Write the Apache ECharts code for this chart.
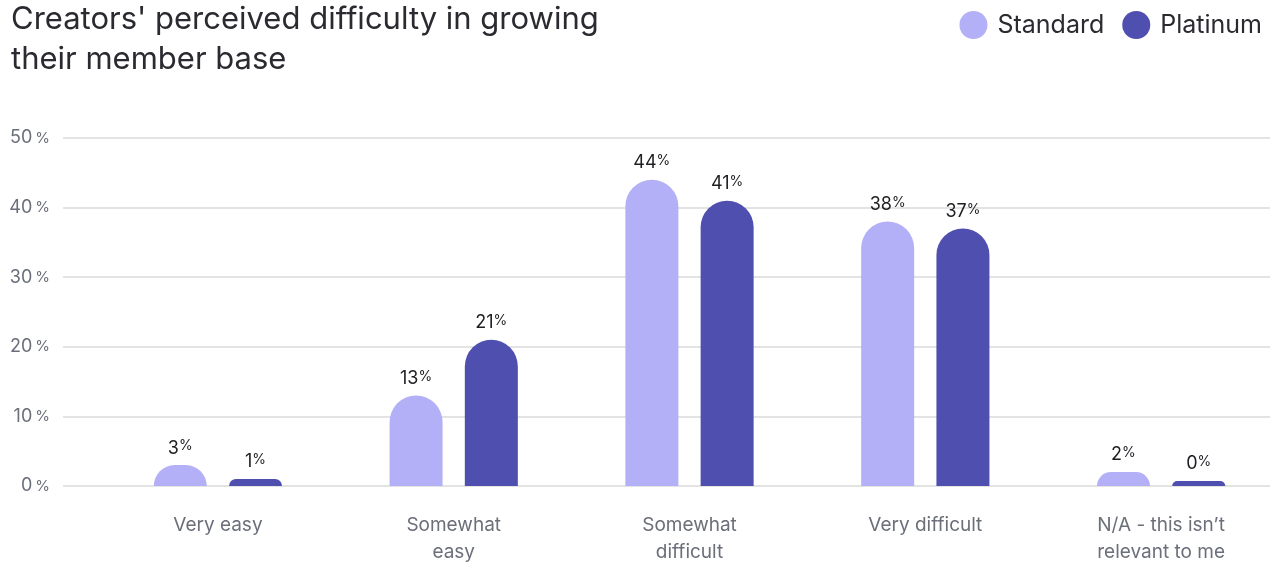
<!DOCTYPE html>
<html>
<head>
<meta charset="utf-8">
<script src="https://cdn.jsdelivr.net/npm/echarts@6/dist/echarts.min.js"></script>
<style>
  html, body { margin: 0; padding: 0; background: #ffffff; }
  #chart { width: 1279px; height: 564px; }
</style>
</head>
<body>
<div id="chart"></div>
<script>
// Survey answers and share of creators per plan
const categories = ['Very easy', 'Somewhat\neasy', 'Somewhat\ndifficult', 'Very difficult', 'N/A - this isn\u2019t\nrelevant to me'];
const standardValues = [3, 13, 44, 38, 2];
const platinumValues = [1, 21, 41, 37, 0];
const yTicks = [0, 10, 20, 30, 40, 50];

const FONT = 'Inter, "Noto Sans", sans-serif';
const STANDARD_COLOR = '#b4b0f7';
const PLATINUM_COLOR = '#4f4fb0';

const chart = echarts.init(document.getElementById('chart'), null, { renderer: 'canvas' });

const valueLabel = {
  show: true,
  position: 'top',
  distance: 8,
  formatter: p => '{n|' + p.value + '}{p|%}',
  rich: {
    n: { fontFamily: FONT, fontSize: 18, color: '#1d1d22' },
    p: { fontFamily: FONT, fontSize: 14, color: '#1d1d22', verticalAlign: 'top', padding: [0, 0, 3, 0] }
  }
};

chart.setOption({
  animation: false,
  title: {
    text: "Creators' perceived difficulty in growing\ntheir member base",
    left: 6,
    top: -5,
    textStyle: { fontFamily: FONT, fontSize: 31, fontWeight: 'normal', color: '#2a2a30', lineHeight: 40 }
  },
  legend: {
    right: 12,
    top: 6,
    icon: 'circle',
    itemWidth: 28,
    itemHeight: 28,
    itemGap: 18,
    textStyle: { fontFamily: FONT, fontSize: 25, color: '#2a2a30', padding: [0, 0, 0, 5] },
    data: ['Standard', 'Platinum']
  },
  grid: [
    { left: 63, right: 9, top: 138, bottom: 78, outerBoundsMode: 'none', containLabel: false },
    { left: 100, right: 0, top: 138, bottom: 78, outerBoundsMode: 'none', containLabel: false }
  ],
  xAxis: [
    { type: 'category', gridIndex: 0, data: categories, show: false },
    {
      type: 'category', gridIndex: 1, data: categories,
      axisLine: { show: false }, axisTick: { show: false },
      axisLabel: { margin: 26, fontFamily: FONT, fontSize: 19, color: '#6b6f7a', lineHeight: 27, interval: 0 }
    }
  ],
  yAxis: [
    {
      type: 'value', gridIndex: 0, min: yTicks[0], max: yTicks[yTicks.length - 1], interval: 10,
      axisLine: { show: false }, axisTick: { show: false },
      splitLine: { lineStyle: { color: '#e3e3e3', width: 2 } },
      axisLabel: {
        margin: 13,
        formatter: v => '{n|' + v + '}{p|%}',
        rich: {
          n: { fontFamily: FONT, fontSize: 18, color: '#6b6f7a' },
          p: { fontFamily: FONT, fontSize: 15, color: '#6b6f7a', padding: [0, 0, 0, 3] }
        }
      }
    },
    { type: 'value', gridIndex: 1, min: yTicks[0], max: yTicks[yTicks.length - 1], interval: 10, show: false }
  ],
  series: [
    {
      name: 'Standard', type: 'bar', xAxisIndex: 1, yAxisIndex: 1,
      data: standardValues,
      barWidth: 53, barGap: '42%',
      barMinHeight: 5,
      itemStyle: { color: STANDARD_COLOR, borderRadius: [27, 27, 0, 0] },
      label: valueLabel
    },
    {
      name: 'Platinum', type: 'bar', xAxisIndex: 1, yAxisIndex: 1,
      data: platinumValues,
      barWidth: 53, barGap: '42%',
      barMinHeight: 5,
      itemStyle: { color: PLATINUM_COLOR, borderRadius: [27, 27, 0, 0] },
      label: valueLabel
    }
  ]
});
</script>
</body>
</html>
